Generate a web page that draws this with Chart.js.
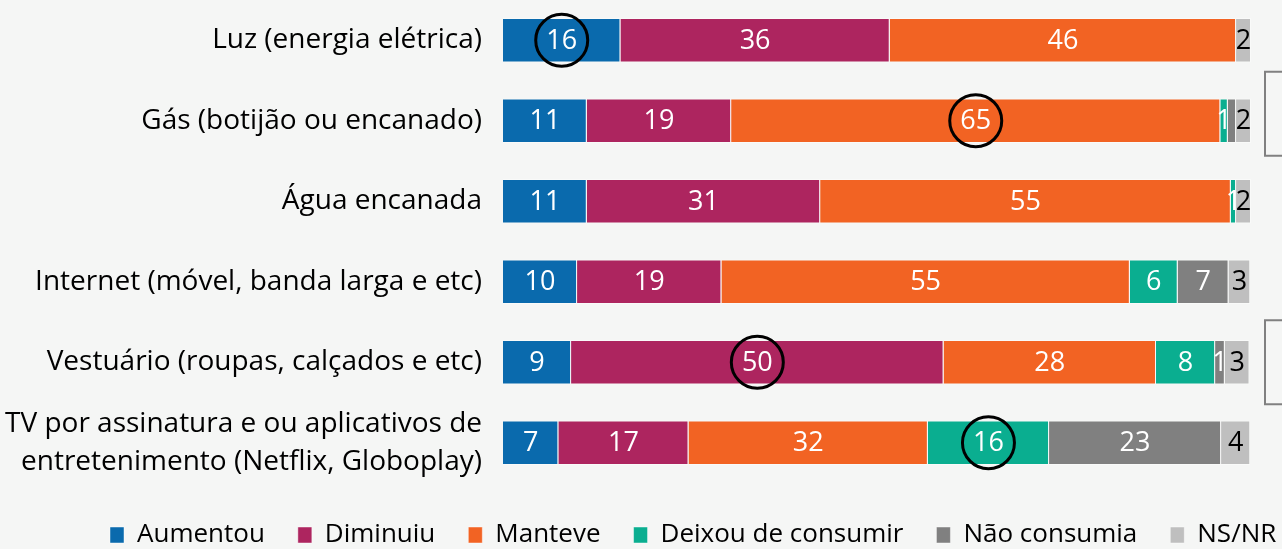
<!DOCTYPE html>
<html>
<head>
<meta charset="utf-8">
<script src="https://cdn.jsdelivr.net/npm/chart.js@4"></script>
<style>
  html, body { margin: 0; padding: 0; background: #f5f6f5; }
  #wrap { width: 1282px; height: 549px; position: relative; }
</style>
</head>
<body>
<div id="wrap"><canvas id="chart"></canvas></div>
<script>
const categories = [
    'Luz (energia elétrica)',
    'Gás (botijão ou encanado)',
    'Água encanada',
    'Internet (móvel, banda larga e etc)',
    'Vestuário (roupas, calçados e etc)',
    ['TV por assinatura e ou aplicativos de', 'entretenimento (Netflix, Globoplay)']
];
// shares in %, labels show the rounded value
const aumentou = [15.7, 11.2, 11.2, 9.9, 9.1, 7.4];
const diminuiu = [36.0, 19.3, 31.2, 19.3, 49.8, 17.4];
const manteve = [46.3, 65.4, 54.9, 54.6, 28.4, 32.0];
const deixou = [0, 1.0, 0.7, 6.4, 7.9, 16.2];
const naoConsumia = [0, 1.1, 0, 6.8, 1.3, 23.0];
const nsnr = [2.0, 2.0, 2.0, 2.9, 3.3, 3.9];

// [category, dataset] pairs
const circled = [[0, 0], [1, 2], [4, 1], [5, 3]];
const noLabel = [[1, 4]];
const bracketRows = [1, 4];

const FONT = '"Open Sans"';

const series = [
    { label: 'Aumentou', data: aumentou, color: '#0a6aad', text: '#ffffff' },
    { label: 'Diminuiu', data: diminuiu, color: '#ad255f', text: '#ffffff' },
    { label: 'Manteve', data: manteve, color: '#f26323', text: '#ffffff' },
    { label: 'Deixou de consumir', data: deixou, color: '#0aae90', text: '#ffffff' },
    { label: 'Não consumia', data: naoConsumia, color: '#808080', text: '#ffffff' },
    { label: 'NS/NR', data: nsnr, color: '#bfbfbf', text: '#000000' }
];

const isIn = (list, i, d) => list.some(p => p[0] === i && p[1] === d);

const barLabels = {
    id: 'barLabels',
    afterLayout(chart) {
        // legend row starts further right in the original (runs off the edge)
        const lg = chart.legend;
        const pad = lg.options.labels.padding;
        const x0 = (lg.left + pad + lg.right - lg.lineWidths[0]) / 2;
        const dx = 110 - x0;
        lg.left += dx; lg.right += dx;
        lg.top += 6; lg.bottom += 6;
    },
    afterDatasetsDraw(chart) {
        const ctx = chart.ctx;
        ctx.save();
        ctx.font = '27px ' + FONT;
        ctx.textAlign = 'center';
        ctx.textBaseline = 'middle';
        chart.data.datasets.forEach((ds, d) => {
            chart.getDatasetMeta(d).data.forEach((bar, i) => {
                const v = ds.data[i];
                if (!v || isIn(noLabel, i, d)) return;
                const cx = (bar.x + bar.base) / 2;
                ctx.fillStyle = series[d].text;
                ctx.fillText(String(Math.round(v)), cx, bar.y + 1);
                if (isIn(circled, i, d)) {
                    ctx.beginPath();
                    ctx.lineWidth = 3;
                    ctx.strokeStyle = '#000';
                    ctx.arc(cx, bar.y, 26, 0, Math.PI * 2);
                    ctx.stroke();
                }
            });
        });
        // partial brackets on the right edge
        const y = chart.scales.y;
        ctx.strokeStyle = '#808080';
        ctx.lineWidth = 2;
        bracketRows.forEach((r, k) => {
            const cy = y.getPixelForValue(r) - (k === 0 ? 7 : 0);
            ctx.strokeRect(1265, cy - 42, 40, 84);
        });
        ctx.restore();
    }
};

new Chart(document.getElementById('chart'), {
    type: 'bar',
    data: {
        labels: categories,
        datasets: series.map(s => ({
            label: s.label,
            data: s.data,
            backgroundColor: s.color,
            borderColor: 'rgba(255,255,255,0.45)',
            borderWidth: 1,
            barPercentage: 0.55,
            categoryPercentage: 1
        }))
    },
    options: {
        indexAxis: 'y',
        responsive: true,
        maintainAspectRatio: false,
        animation: false,
        layout: { padding: { left: 0, right: 31, top: -2, bottom: -3 } },
        scales: {
            x: {
                stacked: true,
                display: false,
                min: 0,
                max: 100
            },
            y: {
                stacked: true,
                grid: { display: false, drawTicks: false },
                border: { display: false },
                ticks: {
                    color: '#000',
                    padding: 21,
                    autoSkip: false,
                    font: { family: FONT, size: 28, lineHeight: 1.36 }
                },
                afterFit(scale) {
                    scale.width = 503;
                    scale.paddingTop = 0;
                    scale.paddingBottom = 0;
                }
            }
        },
        plugins: {
            tooltip: { enabled: false },
            legend: {
                position: 'bottom',
                labels: {
                    color: '#000',
                    font: { family: FONT, size: 26 },
                    boxWidth: 14,
                    boxHeight: 16,
                    padding: 33
                }
            }
        }
    },
    plugins: [barLabels]
});
</script>
</body>
</html>
